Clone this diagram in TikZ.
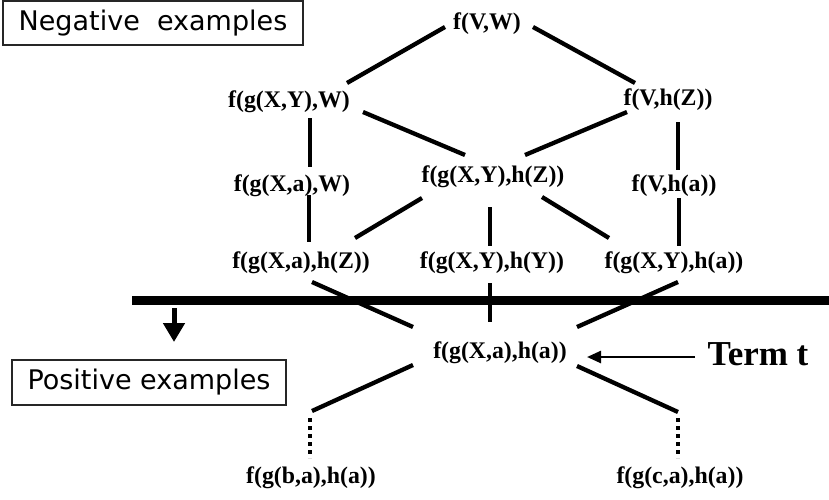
\documentclass[tikz,border=0pt]{standalone}
\usepackage{fontspec}
\setmainfont{Liberation Serif}
\newfontfamily\boxfont{DejaVu Sans}
\usetikzlibrary{arrows.meta}
\begin{document}
\begin{tikzpicture}[x=1pt,y=-1pt,
  term/.style={inner sep=0pt,font=\fontsize{23.8}{26}\selectfont\bfseries},
  edge/.style={line width=4.3pt},
  dots/.style={line width=4.5pt,dash pattern=on 4pt off 4pt},
  labelbox/.style={draw=black!85,line width=1.3pt,inner sep=0pt,font=\boxfont\fontsize{27}{30}\selectfont}]
\useasboundingbox (0,0) rectangle (829,499);
% boxes
\node[labelbox,minimum width=300pt,minimum height=44pt] (neg) at (153,23) {Negative\ \ examples};
\node[labelbox,minimum width=274pt,minimum height=45pt] (pos) at (149,382.5) {Positive examples};
% terms
\node[term] (vw)   at (487,24)  {f(V,W)};
\node[term] (xyw)  at (289,102) {f(g(X,Y),W)};
\node[term] (vhz)  at (668,100) {f(V,h(Z))};
\node[term] (xaw)  at (292,186) {f(g(X,a),W)};
\node[term] (xyhz) at (493,177) {f(g(X,Y),h(Z))};
\node[term] (vha)  at (674,186) {f(V,h(a))};
\node[term] (xahz) at (301,263) {f(g(X,a),h(Z))};
\node[term] (xyhy) at (492,263) {f(g(X,Y),h(Y))};
\node[term] (xyha) at (674,263) {f(g(X,Y),h(a))};
\node[term] (t)    at (500,353) {f(g(X,a),h(a))};
\node[term] (ba)   at (311,478) {f(g(b,a),h(a))};
\node[term] (ca)   at (680,478) {f(g(c,a),h(a))};
\node[inner sep=0pt,font=\fontsize{35}{38}\selectfont\bfseries] (termt) at (758,354) {Term t};
% edge end points
\coordinate (e1a) at (445,27);  \coordinate (e1b) at (347,83);
\coordinate (e2a) at (533,27);  \coordinate (e2b) at (635,83);
\coordinate (e3a) at (363,112); \coordinate (e3b) at (465,155);
\coordinate (e4a) at (627,112); \coordinate (e4b) at (525,155);
\coordinate (e5a) at (310,118); \coordinate (e5b) at (310,167);
\coordinate (e6a) at (678,122); \coordinate (e6b) at (678,170);
\coordinate (e7a) at (309,195); \coordinate (e7b) at (309,242);
\coordinate (e8a) at (422,198); \coordinate (e8b) at (355,238);
\coordinate (e9a) at (490,207); \coordinate (e9b) at (490,246);
\coordinate (e10a) at (542,197); \coordinate (e10b) at (609,238);
\coordinate (e11a) at (679,198); \coordinate (e11b) at (679,246);
\coordinate (e12a) at (312,282); \coordinate (e12b) at (413,327);
\coordinate (e13a) at (490,283); \coordinate (e13b) at (490,322);
\coordinate (e14a) at (678,282); \coordinate (e14b) at (577,327);
\coordinate (e15a) at (413,365); \coordinate (e15b) at (312,411);
\coordinate (e16a) at (577,366); \coordinate (e16b) at (678,412);
\coordinate (d1a) at (310,418); \coordinate (d1b) at (310,458);
\coordinate (d2a) at (678,418); \coordinate (d2b) at (678,458);
\foreach \i in {1,...,16} {\draw[edge] (e\i a) -- (e\i b);}
\draw[dots] (d1a) -- (d1b);
\draw[dots] (d2a) -- (d2b);
% separating bar
\coordinate (barl) at (132,300.5); \coordinate (barr) at (829,300.5);
\draw[line width=9pt] (barl) -- (barr);
% down arrow
\coordinate (dna) at (174,308); \coordinate (dnb) at (174,342);
\draw[line width=5pt,-{Triangle[width=21pt,length=19pt]}] (dna) -- (dnb);
% Term t arrow
\coordinate (ta) at (695,357); \coordinate (tb) at (587,357);
\draw[line width=2.5pt,-{Triangle[width=12pt,length=14pt]}] (ta) -- (tb);
\end{tikzpicture}
\end{document}
